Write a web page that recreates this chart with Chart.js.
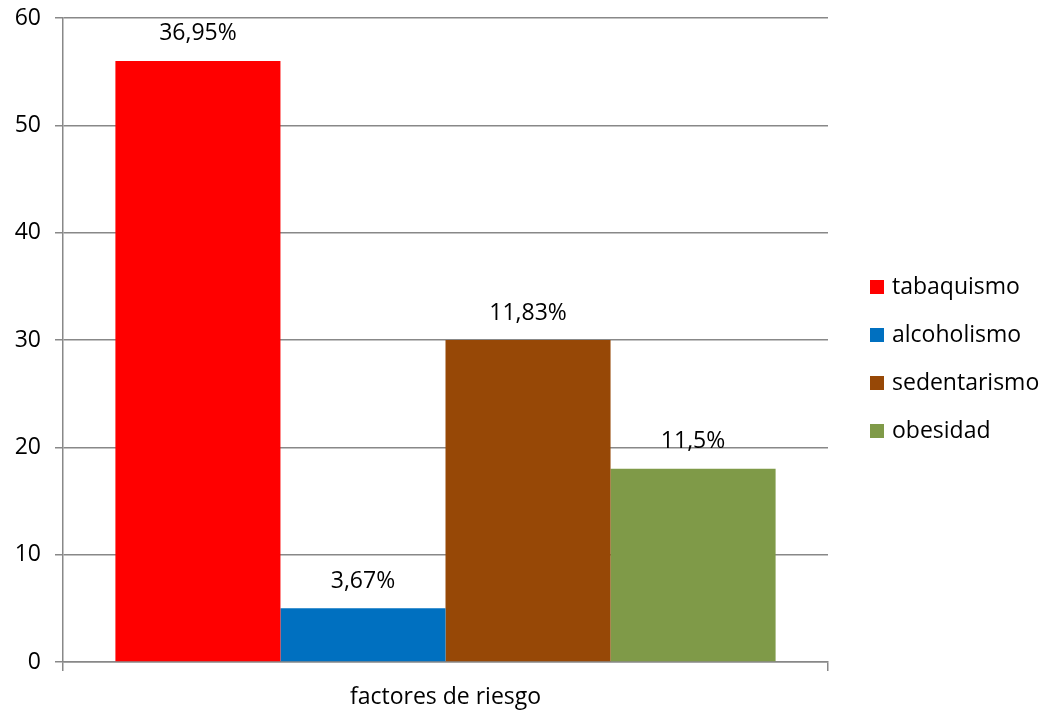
<!DOCTYPE html>
<html>
<head>
<meta charset="utf-8">
<script src="https://cdn.jsdelivr.net/npm/chart.js@4/dist/chart.umd.min.js"></script>
<style>
html,body{margin:0;padding:0;background:#fff;}
#wrap{width:1041px;height:710px;position:relative;}
</style>
</head>
<body>
<div id="wrap"><canvas id="c" width="1041" height="710"></canvas></div>
<script>
const categories = ["factores de riesgo"];
const seriesNames = ["tabaquismo", "alcoholismo", "sedentarismo", "obesidad"];
const seriesValues = [56, 5, 30, 18];
const seriesLabels = ["36,95%", "3,67%", "11,83%", "11,5%"];
const seriesColors = ["#FF0000", "#0070C0", "#974806", "#7F9A48"];
const yTicks = [0, 10, 20, 30, 40, 50, 60];

const FONT = "'Open Sans', sans-serif";
const FS = 23;
const GRID = "#888888";

const valueLabelPlugin = {
  id: "valueLabels",
  afterDatasetsDraw(chart) {
    const ctx = chart.ctx;
    ctx.save();
    ctx.font = FS + "px " + FONT;
    ctx.fillStyle = "#000";
    ctx.textAlign = "center";
    ctx.textBaseline = "middle";
    chart.data.datasets.forEach((ds, i) => {
      const meta = chart.getDatasetMeta(i);
      meta.data.forEach((bar) => {
        ctx.fillText(seriesLabels[i], bar.x, bar.y - 27);
      });
    });
    ctx.restore();
  }
};

const legendPlugin = {
  id: "customLegend",
  afterDraw(chart) {
    const ctx = chart.ctx;
    ctx.save();
    ctx.font = FS + "px " + FONT;
    ctx.textAlign = "left";
    ctx.textBaseline = "middle";
    chart.data.datasets.forEach((ds, i) => {
      const cy = 287 + i * 48;
      ctx.fillStyle = ds.backgroundColor;
      ctx.fillRect(870, cy - 7, 14, 14);
      ctx.fillStyle = "#000";
      ctx.fillText(ds.label, 892, cy);
    });
    ctx.restore();
  }
};

new Chart(document.getElementById("c"), {
  type: "bar",
  data: {
    labels: categories,
    datasets: seriesNames.map((n, i) => ({
      label: n,
      data: [seriesValues[i]],
      backgroundColor: seriesColors[i],
      borderWidth: 0,
      categoryPercentage: 0.863,
      barPercentage: 1.0
    }))
  },
  options: {
    responsive: false,
    animation: false,
    devicePixelRatio: 1,
    layout: { padding: { left: 0, right: 213, top: 18, bottom: 0 } },
    plugins: { legend: { display: false }, tooltip: { enabled: false } },
    scales: {
      x: {
        grid: { offset: true, drawOnChartArea: false, drawTicks: true, tickLength: 9, color: GRID, lineWidth: 1.5 },
        border: { color: GRID, width: 1.5 },
        ticks: { color: "#000", font: { family: FONT, size: FS }, padding: 13 },
        afterFit(scale) { scale.height = 48; scale.paddingLeft = 0; scale.paddingRight = 0; }
      },
      y: {
        min: 0, max: 60,
        afterBuildTicks(scale) { scale.ticks = yTicks.map(v => ({ value: v })); },
        grid: { color: GRID, lineWidth: 1.5, drawTicks: true, tickLength: 8 },
        border: { color: GRID, width: 1.5 },
        ticks: { color: "#000", font: { family: FONT, size: FS }, padding: 14 },
        afterFit(scale) { scale.width = 63; scale.paddingTop = 0; scale.paddingBottom = 0; }
      }
    }
  },
  plugins: [valueLabelPlugin, legendPlugin]
});
</script>
</body>
</html>
